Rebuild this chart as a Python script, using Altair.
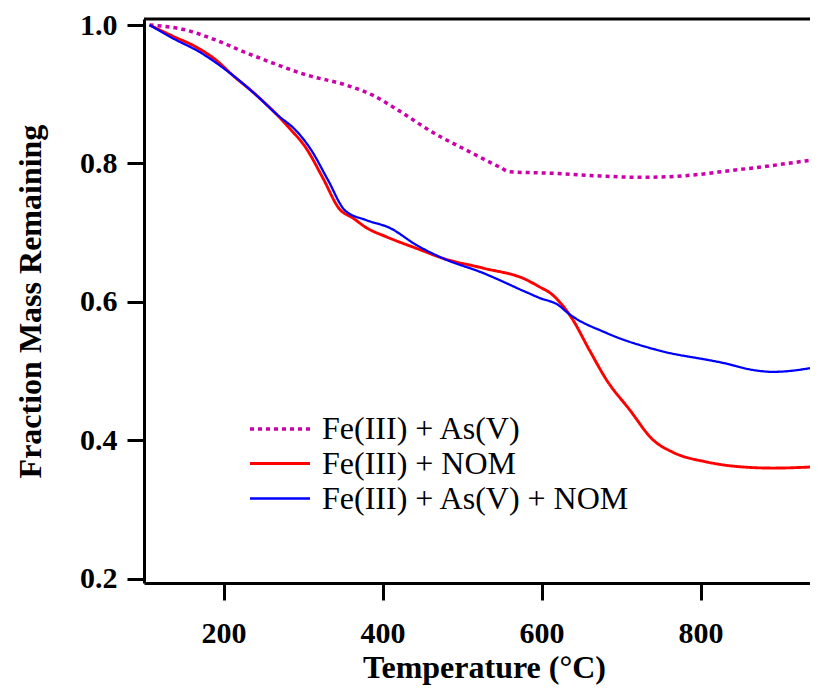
import altair as alt
import pandas as pd

# Series names
series_names = ["Fe(III) + As(V)", "Fe(III) + NOM", "Fe(III) + As(V) + NOM"]
series_colors = ["#cc00aa", "#ff0000", "#0000ff"]

# Fe(III) + As(V)
t_as = [107, 148, 191, 220, 262, 304, 355, 387, 421, 463, 506, 547, 560, 610, 673, 727, 777, 840, 883, 946]
v_as = [1.0, 0.994, 0.978, 0.964, 0.945, 0.928, 0.913, 0.899, 0.876, 0.845, 0.819, 0.795, 0.788, 0.786,
        0.782, 0.780, 0.782, 0.790, 0.796, 0.806]

# Fe(III) + NOM
t_nom = [107, 136, 166, 191, 211, 241, 283, 304, 325, 346, 363, 380, 405, 446, 476, 526, 581, 597, 612,
         625, 639, 660, 682, 711, 740, 765, 807, 849, 891, 947]
v_nom = [1.0, 0.984, 0.968, 0.949, 0.928, 0.899, 0.851, 0.822, 0.779, 0.734, 0.721, 0.707, 0.694, 0.676,
         0.663, 0.649, 0.632, 0.622, 0.612, 0.597, 0.575, 0.531, 0.487, 0.444, 0.401, 0.383, 0.369, 0.362,
         0.360, 0.362]

# Fe(III) + As(V) + NOM
t_both = [107, 136, 170, 211, 237, 270, 290, 310, 331, 353, 380, 409, 443, 476, 526, 581, 597, 623, 631, 682,
          744, 828, 870, 891, 947]
v_both = [1.0, 0.981, 0.961, 0.928, 0.903, 0.868, 0.849, 0.820, 0.777, 0.732, 0.718, 0.707, 0.682, 0.663,
          0.642, 0.614, 0.606, 0.594, 0.586, 0.555, 0.531, 0.512, 0.501, 0.499, 0.506]

x_ticks = [200, 400, 600, 800]
y_ticks = [0.2, 0.4, 0.6, 0.8, 1.0]

rows = []
for name, ts, vs in zip(series_names, [t_as, t_nom, t_both], [v_as, v_nom, v_both]):
    for t, v in zip(ts, vs):
        rows.append({"T": t, "v": v, "series": name})
df = pd.DataFrame(rows)

W, H = 666, 564
FONT = "Liberation Serif, Times New Roman, serif"

legend = alt.Legend(
    title=None, orient="none", legendX=119, legendY=393,
    symbolType="M-2,0H2", symbolSize=900, symbolStrokeWidth=2.5, symbolFillColor="transparent",
    labelFont=FONT, labelFontSize=32, labelColor="black", labelOffset=25,
    rowPadding=2, padding=0, labelLimit=0,
)

lines = alt.Chart(df).mark_line(interpolate="monotone", clip=True).encode(
    x=alt.X("T:Q", scale=alt.Scale(domain=[100, 100 + W / 0.795], nice=False, zero=False),
            axis=alt.Axis(values=x_ticks, title="Temperature (°C)", titleX=340, titleY=94,
                          titleBaseline="alphabetic", labelPadding=18)),
    y=alt.Y("v:Q", scale=alt.Scale(domain=[0.194, 1.0087], nice=False, zero=False),
            axis=alt.Axis(values=y_ticks, format=".1f", title="Fraction Mass Remaining",
                          titleX=-114, titleY=282, titleBaseline="middle", labelPadding=10)),
    color=alt.Color("series:N", sort=series_names,
                    scale=alt.Scale(domain=series_names, range=series_colors), legend=legend),
    strokeDash=alt.StrokeDash("series:N", sort=series_names,
                              scale=alt.Scale(domain=series_names, range=[[4, 4], [1, 0], [1, 0]]),
                              legend=legend),
    strokeWidth=alt.StrokeWidth("series:N", sort=series_names,
                                scale=alt.Scale(domain=series_names, range=[3.5, 2.3, 2.3]),
                                legend=None),
)

top_rule = alt.Chart(pd.DataFrame({"a": [0]})).mark_rule(color="black", strokeWidth=3).encode(
    x=alt.value(0), x2=alt.value(W), y=alt.value(0)
)

chart = alt.layer(lines, top_rule).properties(
    width=W, height=H,
    autosize=alt.AutoSizeParams(type="none"),
    padding={"left": 136, "top": 11, "right": 0, "bottom": 105},
).configure_view(stroke=None).configure_axis(
    grid=False, domainColor="black", domainWidth=3, tickColor="black", tickWidth=3, tickSize=17,
    labelFont=FONT, labelFontSize=30, labelFontWeight="bold", labelColor="black",
    titleFont=FONT, titleFontSize=32, titleFontWeight="bold", titleColor="black",
)

chart.save("out.html", embed_options={"renderer": "svg", "actions": False})
